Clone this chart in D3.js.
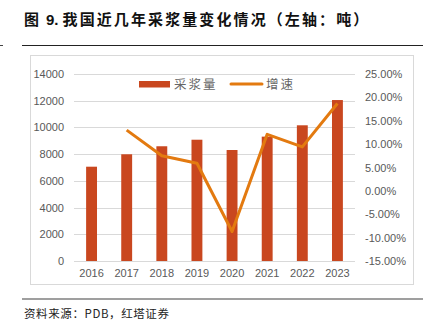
<!DOCTYPE html>
<html><head><meta charset="utf-8">
<script src="https://cdn.jsdelivr.net/npm/d3@7/dist/d3.min.js"></script>
<style>body{margin:0;background:#fff}svg{display:block}</style>
</head><body>
<svg id="c" width="433" height="331"></svg>
<script>
const years = ["2016","2017","2018","2019","2020","2021","2022","2023"];
const volume = [7060, 7990, 8590, 9080, 8310, 9310, 10160, 12050];
const growth = [null, 13.0, 7.5, 5.9, -8.7, 12.1, 9.4, 18.7];
const leftTicks = [0,2000,4000,6000,8000,10000,12000,14000];
const rightTicks = [-15,-10,-5,0,5,10,15,20,25];
const titlePrefix = "图 9.";
const titleText = "我国近几年采浆量变化情况（左轴：吨）";
const source = "资料来源：PDB，红塔证券";
const seriesNames = ["采浆量","增速"];

const svg = d3.select("#c");
const L = 74, R = 355, T = 74, B = 261;
const barColor = "#C9471F", lineColor = "#E37A10";
const sans = "'Liberation Sans', Arial, sans-serif";
const cjk = "'Noto Sans CJK SC', sans-serif";

// title
const tt = svg.append("text").attr("x",24).attr("y",25).attr("font-size",15).attr("fill","#111");
tt.append("tspan").attr("font-family",cjk).attr("font-weight","bold").text(titlePrefix.slice(0,1));
tt.append("tspan").attr("font-family",sans).attr("font-weight","bold").attr("dx",7).text(titlePrefix.slice(1).trim());
tt.append("tspan").attr("font-family",cjk).attr("font-weight","bold").attr("dx",4).attr("letter-spacing",2.1).text(titleText);
svg.append("line").attr("x1",22).attr("x2",423).attr("y1",45.5).attr("y2",45.5).attr("stroke","#222").attr("stroke-width",1.2);
svg.append("line").attr("x1",0).attr("x2",3).attr("y1",45.5).attr("y2",45.5).attr("stroke","#444");
// frame
svg.append("rect").attr("x",30.5).attr("y",55.5).attr("width",383).attr("height",229).attr("fill","none").attr("stroke","#d9d9d9");
// bottom line & source
svg.append("line").attr("x1",22).attr("x2",423).attr("y1",299).attr("y2",299).attr("stroke","#7f7f7f").attr("stroke-width",1.5);
svg.append("text").attr("x",24).attr("y",318).attr("font-family",cjk).attr("font-size",11.5).attr("letter-spacing",0.6).attr("fill","#222").text(source);

const x = d3.scaleBand().domain(years).range([L,R]).paddingInner(0.69).paddingOuter(0.345);
const y = d3.scaleLinear().domain([0,14000]).range([B,T]);
const y2 = d3.scaleLinear().domain([-15,25]).range([B,T]);

// grid
svg.append("g").selectAll("line").data(leftTicks).join("line")
  .attr("x1",L).attr("x2",R).attr("y1",d=>Math.round(y(d))+0.5).attr("y2",d=>Math.round(y(d))+0.5)
  .attr("stroke","#d9d9d9").attr("stroke-width",1);

// axes
const la = svg.append("g").attr("transform",`translate(${L},0)`)
  .call(d3.axisLeft(y).tickValues(leftTicks).tickSize(0).tickPadding(10).tickFormat(d3.format("d")));
la.select(".domain").remove();
la.selectAll("text").attr("font-family",sans).attr("font-size",11).attr("fill","#595959");

const ra = svg.append("g").attr("transform",`translate(${R},0)`)
  .call(d3.axisRight(y2).tickValues(rightTicks).tickSize(0).tickPadding(10).tickFormat(d=>d.toFixed(2)+"%"));
ra.select(".domain").remove();
ra.selectAll("text").attr("font-family",sans).attr("font-size",11).attr("fill","#595959");

const xa = svg.append("g").attr("transform",`translate(0,${B})`)
  .call(d3.axisBottom(x).tickSize(0).tickPadding(8));
xa.select(".domain").remove();
xa.selectAll("text").attr("font-family",sans).attr("font-size",11).attr("fill","#595959");

// bars
svg.append("g").selectAll("rect").data(years).join("rect")
  .attr("x",d=>x(d)).attr("width",x.bandwidth())
  .attr("y",(d,i)=>y(volume[i])).attr("height",(d,i)=>B-y(volume[i]))
  .attr("fill",barColor);

// line
const pts = years.map((d,i)=>({k:d,v:growth[i]})).filter(p=>p.v!==null);
svg.append("path").datum(pts)
  .attr("d",d3.line().x(p=>x(p.k)+x.bandwidth()/2).y(p=>y2(p.v)))
  .attr("fill","none").attr("stroke",lineColor).attr("stroke-width",3).attr("stroke-linejoin","round");

// legend
const lg = svg.append("g");
lg.append("rect").attr("x",139).attr("y",81).attr("width",31).attr("height",6.5).attr("fill",barColor);
lg.append("text").attr("x",174).attr("y",89).attr("font-family",cjk).attr("font-size",12.5).attr("fill","#666").attr("letter-spacing",2).text(seriesNames[0]);
lg.append("line").attr("x1",231).attr("x2",262).attr("y1",84).attr("y2",84).attr("stroke",lineColor).attr("stroke-width",3).attr("stroke-linecap","round");
lg.append("text").attr("x",266).attr("y",89).attr("font-family",cjk).attr("font-size",12.5).attr("fill","#666").attr("letter-spacing",2).text(seriesNames[1]);
</script>
</body></html>
